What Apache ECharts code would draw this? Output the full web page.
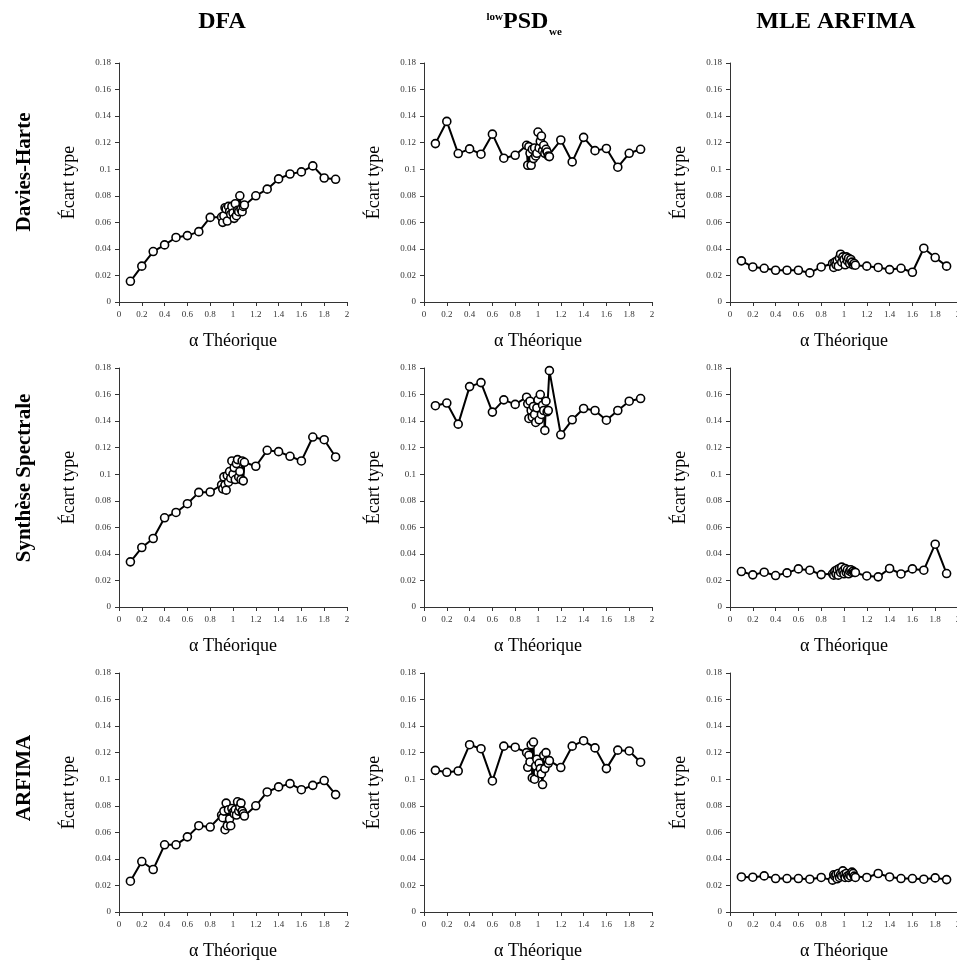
<!DOCTYPE html>
<html>
<head>
<meta charset="utf-8">
<script src="https://cdn.jsdelivr.net/npm/echarts@6/dist/echarts.min.js"></script>
<style>
html,body{margin:0;padding:0;background:#fff;}
#chart{width:957px;height:965px;}
</style>
</head>
<body>
<div id="chart"></div>
<script>
// Theoretical alpha values (x)
const alphaValues = [0.1,0.2,0.3,0.4,0.5,0.6,0.7,0.8,
  0.90,0.91,0.92,0.93,0.94,0.95,0.96,0.97,0.98,0.99,1.00,1.01,1.02,1.03,1.04,1.05,1.06,1.07,1.08,1.09,1.10,
  1.2,1.3,1.4,1.5,1.6,1.7,1.8,1.9];

const columnTitles = ['DFA', 'PSD', 'MLE ARFIMA'];
const psdSup = 'low';
const psdSub = 'we';
const rowTitles = ['Davies-Harte', 'Synthèse Spectrale', 'ARFIMA'];
const xAxisName = 'α Théorique';
const yAxisName = 'Écart type';

// Davies-Harte
const dhDFA = [0.0156,0.027,0.038,0.043,0.0486,0.050,0.053,0.0637,
  0.064,0.060,0.065,0.071,0.070,0.061,0.072,0.068,0.066,0.072,0.067,0.063,0.074,0.065,0.069,0.068,0.080,0.070,0.068,0.072,0.073,
  0.080,0.085,0.0927,0.0964,0.098,0.1025,0.0934,0.0924];
const dhPSD = [0.1193,0.136,0.1118,0.1153,0.1113,0.1264,0.1083,0.1105,
  0.118,0.103,0.117,0.112,0.103,0.115,0.108,0.116,0.110,0.112,0.128,0.116,0.121,0.125,0.114,0.118,0.112,0.115,0.113,0.110,0.1095,
  0.122,0.1055,0.124,0.114,0.1156,0.1015,0.112,0.115];
const dhMLE = [0.031,0.0264,0.0254,0.0239,0.0239,0.0239,0.0219,0.0264,
  0.029,0.026,0.030,0.028,0.031,0.027,0.033,0.036,0.030,0.034,0.032,0.028,0.034,0.031,0.033,0.029,0.032,0.030,0.028,0.029,0.0277,
  0.027,0.026,0.0244,0.0254,0.0224,0.0405,0.0335,0.027];
// Synthèse Spectrale
const ssDFA = [0.034,0.0448,0.0516,0.0672,0.0712,0.0778,0.0863,0.0866,
  0.092,0.089,0.098,0.092,0.088,0.099,0.094,0.102,0.097,0.110,0.100,0.105,0.096,0.108,0.111,0.098,0.102,0.096,0.110,0.095,0.109,
  0.106,0.118,0.117,0.1135,0.110,0.128,0.126,0.113];
const ssPSD = [0.1516,0.1536,0.1377,0.166,0.169,0.1468,0.156,0.1526,
  0.158,0.153,0.142,0.155,0.148,0.143,0.151,0.145,0.139,0.150,0.156,0.141,0.160,0.145,0.152,0.148,0.133,0.155,0.147,0.148,0.178,
  0.1297,0.141,0.1495,0.148,0.1407,0.148,0.155,0.157];
const ssMLE = [0.0267,0.0242,0.0262,0.0237,0.0257,0.0287,0.0277,0.0244,
  0.025,0.024,0.027,0.025,0.028,0.024,0.029,0.026,0.030,0.027,0.025,0.029,0.026,0.028,0.025,0.027,0.028,0.026,0.027,0.026,0.026,
  0.0234,0.0227,0.029,0.0249,0.0287,0.0277,0.0473,0.0252];
// ARFIMA
const arDFA = [0.0232,0.038,0.032,0.0506,0.0506,0.0566,0.065,0.064,
  0.073,0.071,0.076,0.062,0.082,0.065,0.077,0.070,0.065,0.078,0.075,0.074,0.077,0.073,0.083,0.076,0.079,0.082,0.076,0.074,0.0723,
  0.080,0.0904,0.0942,0.0967,0.0921,0.0954,0.099,0.0884];
const arPSD = [0.1067,0.1052,0.1062,0.126,0.123,0.0987,0.1249,0.1241,
  0.120,0.109,0.118,0.113,0.126,0.101,0.128,0.100,0.110,0.115,0.105,0.112,0.108,0.104,0.096,0.118,0.108,0.120,0.114,0.112,0.114,
  0.1088,0.1249,0.129,0.1236,0.108,0.1219,0.1213,0.1128];
const arMLE = [0.0264,0.0262,0.0272,0.0252,0.0252,0.0252,0.0247,0.026,
  0.024,0.028,0.027,0.028,0.025,0.029,0.026,0.028,0.027,0.031,0.028,0.026,0.029,0.027,0.026,0.028,0.027,0.030,0.029,0.027,0.026,
  0.026,0.029,0.0264,0.0252,0.0252,0.0247,0.0257,0.0244];

const panels = [
  [dhDFA, dhPSD, dhMLE],
  [ssDFA, ssPSD, ssMLE],
  [arDFA, arPSD, arMLE]
];

const SERIF = '"Liberation Serif", "DejaVu Serif", serif';
const colLeft = [119, 424, 730];
const rowTop = [63, 368, 673];
const gridW = 228, gridH = 239;

const fmt = v => String(parseFloat(Number(v).toFixed(2)));

const grids = [], xAxes = [], yAxes = [], series = [];
let k = 0;
for (let r = 0; r < 3; r++) {
  for (let c = 0; c < 3; c++) {
    grids.push({left: colLeft[c], top: rowTop[r], width: gridW, height: gridH,
      containLabel: false, outerBoundsMode: 'none'});
    xAxes.push({
      gridIndex: k, type: 'value', min: 0, max: 2, interval: 0.2,
      name: xAxisName, nameLocation: 'middle', nameGap: 30,
      nameTextStyle: {fontFamily: SERIF, fontSize: 18, color: '#000'},
      axisLine: {show: true, onZero: false, lineStyle: {color: '#333', width: 1}},
      axisTick: {show: true, length: 4, lineStyle: {color: '#333'}},
      axisLabel: {fontFamily: SERIF, fontSize: 9, color: '#333', margin: 8, formatter: fmt, showMaxLabel: true, showMinLabel: true, hideOverlap: false},
      splitLine: {show: false}
    });
    yAxes.push({
      gridIndex: k, type: 'value', min: 0, max: 0.18, interval: 0.02,
      name: yAxisName, nameLocation: 'middle', nameGap: 41, nameRotate: 90,
      nameTextStyle: {fontFamily: SERIF, fontSize: 18, color: '#000'},
      axisLine: {show: true, lineStyle: {color: '#333', width: 1}},
      axisTick: {show: true, length: 4, lineStyle: {color: '#333'}},
      axisLabel: {fontFamily: SERIF, fontSize: 9, color: '#333', margin: 8, formatter: fmt},
      splitLine: {show: false}
    });
    const ys = panels[r][c];
    series.push({
      type: 'line', xAxisIndex: k, yAxisIndex: k,
      data: alphaValues.map((x, i) => [x, ys[i]]),
      symbol: 'circle', symbolSize: 8, showAllSymbol: true,
      lineStyle: {color: '#000', width: 2},
      itemStyle: {color: '#fff', borderColor: '#000', borderWidth: 1.6},
      emphasis: {disabled: true},
      z: 2
    });
    k++;
  }
}

const graphics = [];
graphics.push({type: 'text', x: 222, y: 22,
  style: {text: columnTitles[0], font: 'bold 24px ' + SERIF, fill: '#000', align: 'center', verticalAlign: 'middle'}});
// lowPSDwe title: superscript, main, subscript
graphics.push({type: 'text', x: 503, y: 17,
  style: {text: psdSup, font: 'bold 11px ' + SERIF, fill: '#000', align: 'right', verticalAlign: 'middle'}});
graphics.push({type: 'text', x: 503, y: 22,
  style: {text: columnTitles[1], font: 'bold 24px ' + SERIF, fill: '#000', align: 'left', verticalAlign: 'middle'}});
graphics.push({type: 'text', x: 549, y: 32,
  style: {text: psdSub, font: 'bold 11px ' + SERIF, fill: '#000', align: 'left', verticalAlign: 'middle'}});
graphics.push({type: 'text', x: 836, y: 22,
  style: {text: columnTitles[2], font: 'bold 24px ' + SERIF, fill: '#000', align: 'center', verticalAlign: 'middle'}});

const rowY = [172, 478, 778];
for (let r = 0; r < 3; r++) {
  graphics.push({type: 'text', x: 25, y: rowY[r], rotation: Math.PI / 2,
    style: {text: rowTitles[r], font: 'bold 21px ' + SERIF, fill: '#000', align: 'center', verticalAlign: 'middle'}});
}

const chart = echarts.init(document.getElementById('chart'), null, {renderer: 'canvas'});
chart.setOption({
  animation: false,
  backgroundColor: '#fff',
  grid: grids,
  xAxis: xAxes,
  yAxis: yAxes,
  series: series,
  graphic: graphics
});
</script>
</body>
</html>
